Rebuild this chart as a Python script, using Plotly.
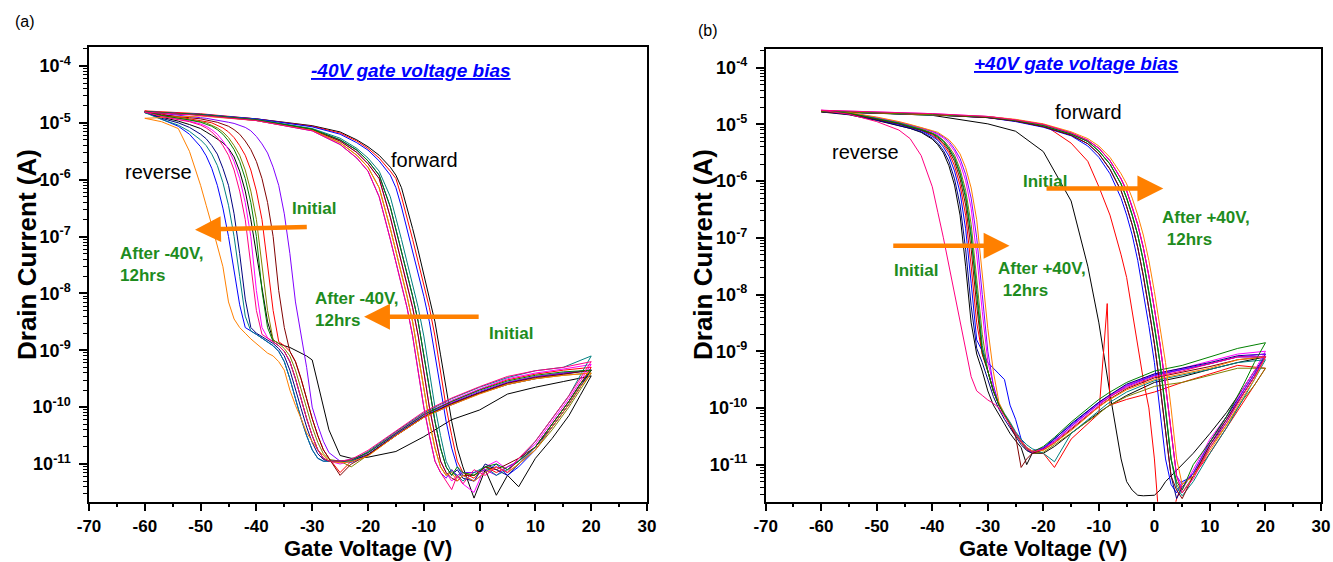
import plotly.graph_objects as go

FONT = "Liberation Sans, Arial, Helvetica, sans-serif"

# Origin-style line colours, one per transfer-curve loop
curve_colors = ["#000000", "#FF0000", "#0000FF", "#FF00FF", "#808000", "#000080",
                "#8000FF", "#008080", "#800000", "#FF8000", "#008000", "#FF0080"]

# ---------------- panel (a): -40V gate voltage bias ----------------
# gate voltage (V) of the forward sweep and of the reverse sweep
vg_fwd_a = [-60, -50, -40, -30, -25, -22, -20, -18, -16, -15, -14, -13, -12, -11, -10, -9, -8, -7,
            -6, -5, -4, -3, -1, 1, 3, 5, 7, 10, 13, 16, 18, 20]
vg_rev_a = [15, 10, 5, 0, -5, -10, -15, -20, -23, -25, -27, -28, -29, -30, -31, -32, -33, -34, -35,
            -36, -37, -38, -39, -40, -41, -42, -43, -44, -45, -46, -47, -48, -49, -50, -52, -54, -57, -60]
# log10 of drain current (A)
log_id_fwd_a = [
    [-4.82, -4.86, -4.93, -5.05, -5.16, -5.30, -5.42, -5.57, -5.78, -5.92, -6.14, -6.48, -6.86, -7.25, -7.65, -8.05, -8.5, -9.08, -9.7, -10.25, -10.72, -11.05, -11.6, -11.1, -11.55, -11.2, -11.4, -10.9, -10.55, -10.15, -9.8, -9.45],
    [-4.79, -4.84, -4.93, -5.06, -5.18, -5.32, -5.45, -5.62, -5.85, -5.98, -6.3, -6.66, -7.05, -7.45, -7.85, -8.25, -8.75, -9.4, -10.0, -10.5, -10.95, -11.15, -11.25, -11.05, -11.15, -11.05, -10.95, -10.7, -10.3, -9.9, -9.6, -9.3],
    [-4.81, -4.85, -4.93, -5.07, -5.20, -5.35, -5.48, -5.67, -5.92, -6.14, -6.48, -6.86, -7.25, -7.65, -8.05, -8.5, -9.08, -9.7, -10.25, -10.72, -11.05, -11.2, -11.3, -11.15, -11.0, -11.2, -11.05, -10.75, -10.35, -9.95, -9.65, -9.35],
    [-4.80, -4.86, -4.95, -5.12, -5.32, -5.52, -5.72, -5.98, -6.66, -7.05, -7.45, -7.85, -8.25, -8.75, -9.4, -10.0, -10.5, -10.95, -11.15, -11.3, -11.2, -11.35, -11.5, -11.05, -10.95, -11.1, -10.9, -10.65, -10.25, -9.85, -9.55, -9.25],
    [-4.80, -4.86, -4.96, -5.13, -5.35, -5.57, -5.78, -6.14, -6.86, -7.25, -7.65, -8.05, -8.5, -9.08, -9.7, -10.25, -10.72, -11.05, -11.2, -11.1, -11.25, -11.15, -11.2, -11.1, -11.05, -11.15, -11.0, -10.75, -10.4, -10.0, -9.7, -9.4],
    [-4.81, -4.86, -4.95, -5.11, -5.30, -5.48, -5.67, -5.92, -6.48, -6.86, -7.25, -7.65, -8.05, -8.5, -9.08, -9.7, -10.25, -10.72, -11.05, -11.2, -11.1, -11.25, -11.3, -11.0, -11.1, -11.2, -11.0, -10.7, -10.35, -9.95, -9.65, -9.35],
    [-4.80, -4.86, -4.96, -5.14, -5.38, -5.62, -5.85, -6.3, -7.05, -7.45, -7.85, -8.25, -8.75, -9.4, -10.0, -10.5, -10.95, -11.15, -11.25, -11.1, -11.2, -11.15, -11.15, -11.1, -11.2, -11.05, -10.95, -10.7, -10.3, -9.9, -9.6, -9.35],
    [-4.82, -4.85, -4.94, -5.10, -5.27, -5.45, -5.62, -5.85, -6.3, -6.66, -7.05, -7.45, -7.85, -8.25, -8.75, -9.4, -10.0, -10.5, -10.95, -11.15, -11.2, -11.3, -11.15, -11.05, -11.2, -11.1, -10.95, -10.6, -10.2, -9.8, -9.45, -9.1],
    [-4.81, -4.86, -4.95, -5.12, -5.32, -5.52, -5.72, -5.98, -6.66, -7.05, -7.45, -7.85, -8.25, -8.75, -9.4, -10.0, -10.5, -10.95, -11.15, -11.25, -11.3, -11.2, -11.2, -11.05, -11.1, -11.0, -10.9, -10.7, -10.3, -9.9, -9.6, -9.35],
    [-4.92, -4.88, -4.96, -5.13, -5.35, -5.57, -5.78, -6.14, -6.86, -7.25, -7.65, -8.05, -8.5, -9.08, -9.7, -10.25, -10.72, -11.05, -11.2, -11.15, -11.3, -11.2, -11.3, -11.15, -11.05, -11.15, -11.0, -10.75, -10.35, -9.95, -9.65, -9.4],
    [-4.80, -4.86, -4.95, -5.11, -5.30, -5.48, -5.67, -5.92, -6.48, -6.86, -7.25, -7.65, -8.05, -8.5, -9.08, -9.7, -10.25, -10.72, -11.05, -11.2, -11.05, -11.15, -11.2, -11.05, -11.0, -11.1, -10.95, -10.7, -10.3, -9.9, -9.6, -9.35],
    [-4.81, -4.87, -4.96, -5.14, -5.38, -5.62, -5.85, -6.3, -7.05, -7.45, -7.85, -8.25, -8.75, -9.4, -10.0, -10.5, -10.95, -11.15, -11.3, -11.45, -11.2, -11.35, -11.1, -11.2, -11.05, -11.15, -10.9, -10.6, -10.2, -9.8, -9.5, -9.2],
]
log_id_rev_a = [
    [-9.55, -9.65, -9.77, -10.05, -10.22, -10.52, -10.78, -10.88, -10.9, -10.85, -10.4, -9.98, -9.55, -9.17, -9.1, -9.05, -9.0, -8.95, -8.92, -8.88, -8.82, -8.5, -7.9, -7.3, -6.7, -6.2, -5.85, -5.6, -5.45, -5.35, -5.28, -5.22, -5.16, -5.1, -5.03, -4.97, -4.9, -4.82],
    [-9.35, -9.42, -9.52, -9.69, -9.9, -10.12, -10.45, -10.8, -10.95, -11.15, -10.9, -10.75, -10.5, -10.2, -9.85, -9.5, -9.2, -9.02, -8.92, -8.85, -8.3, -7.5, -6.7, -6.2, -5.83, -5.57, -5.4, -5.26, -5.16, -5.09, -5.04, -5.0, -4.98, -4.96, -4.93, -4.9, -4.85, -4.79],
    [-9.42, -9.5, -9.6, -9.76, -9.96, -10.18, -10.5, -10.85, -10.97, -10.95, -10.95, -10.95, -10.9, -10.75, -10.5, -10.2, -9.85, -9.5, -9.2, -9.02, -8.92, -8.85, -8.78, -8.72, -8.66, -8.6, -8.2, -7.6, -7.0, -6.5, -6.1, -5.8, -5.58, -5.42, -5.2, -5.06, -4.94, -4.81],
    [-9.33, -9.4, -9.5, -9.68, -9.88, -10.12, -10.45, -10.8, -10.95, -11.0, -10.95, -10.9, -10.75, -10.5, -10.2, -9.85, -9.5, -9.2, -9.02, -8.92, -8.85, -8.78, -8.6, -7.95, -7.0, -6.4, -5.98, -5.68, -5.47, -5.32, -5.2, -5.12, -5.06, -5.02, -4.97, -4.93, -4.88, -4.80],
    [-9.44, -9.5, -9.6, -9.76, -9.95, -10.18, -10.5, -10.85, -11.05, -10.95, -10.92, -10.82, -10.62, -10.35, -10.02, -9.68, -9.35, -9.1, -8.97, -8.88, -8.82, -8.3, -7.5, -6.7, -6.2, -5.83, -5.57, -5.4, -5.26, -5.16, -5.09, -5.04, -5.0, -4.98, -4.95, -4.92, -4.87, -4.80],
    [-9.4, -9.47, -9.57, -9.74, -9.93, -10.16, -10.48, -10.83, -10.95, -10.95, -10.95, -10.92, -10.82, -10.62, -10.35, -10.02, -9.68, -9.35, -9.1, -8.97, -8.88, -8.82, -8.75, -8.7, -8.6, -8.1, -7.3, -6.6, -6.1, -5.8, -5.55, -5.4, -5.28, -5.2, -5.08, -5.0, -4.92, -4.81],
    [-9.4, -9.46, -9.56, -9.72, -9.92, -10.14, -10.47, -10.8, -10.92, -10.95, -10.8, -10.6, -10.32, -10.0, -9.3, -8.75, -8.15, -7.3, -6.6, -6.1, -5.78, -5.53, -5.37, -5.24, -5.14, -5.08, -5.04, -5.01, -4.99, -4.97, -4.95, -4.93, -4.92, -4.91, -4.89, -4.87, -4.84, -4.80],
    [-9.3, -9.36, -9.48, -9.65, -9.85, -10.1, -10.43, -10.78, -10.95, -10.97, -10.95, -10.95, -10.9, -10.75, -10.5, -10.2, -9.85, -9.5, -9.2, -9.02, -8.92, -8.85, -8.78, -8.72, -8.66, -8.4, -7.7, -7.0, -6.45, -6.05, -5.75, -5.55, -5.4, -5.3, -5.15, -5.04, -4.94, -4.82],
    [-9.42, -9.48, -9.58, -9.75, -9.94, -10.17, -10.5, -10.84, -11.0, -11.2, -10.9, -10.75, -10.5, -10.2, -9.85, -9.5, -9.2, -9.02, -8.6, -7.95, -7.0, -6.4, -5.98, -5.68, -5.47, -5.32, -5.2, -5.12, -5.06, -5.02, -4.99, -4.97, -4.95, -4.93, -4.91, -4.89, -4.86, -4.81],
    [-9.44, -9.5, -9.6, -9.77, -9.96, -10.18, -10.5, -10.86, -10.96, -10.98, -10.95, -10.85, -10.75, -10.6, -10.45, -10.2, -9.97, -9.7, -9.35, -9.2, -9.1, -9.05, -8.97, -8.88, -8.8, -8.7, -8.6, -8.45, -8.15, -7.53, -7.15, -6.8, -6.45, -6.1, -5.5, -5.1, -4.98, -4.92],
    [-9.38, -9.44, -9.54, -9.7, -9.9, -10.13, -10.46, -10.8, -10.93, -10.95, -10.95, -10.9, -10.75, -10.5, -10.2, -9.85, -9.5, -9.2, -9.02, -8.92, -8.85, -8.6, -7.95, -7.0, -6.4, -5.98, -5.68, -5.47, -5.32, -5.2, -5.12, -5.06, -5.02, -4.99, -4.95, -4.92, -4.87, -4.80],
    [-9.3, -9.36, -9.46, -9.64, -9.84, -10.08, -10.42, -10.76, -10.92, -10.95, -10.95, -10.9, -10.75, -10.5, -10.2, -9.85, -9.5, -9.2, -9.02, -8.92, -8.85, -8.78, -8.72, -8.3, -7.5, -6.7, -6.2, -5.83, -5.57, -5.4, -5.26, -5.16, -5.09, -5.04, -4.98, -4.94, -4.89, -4.81],
]

# ---------------- panel (b): +40V gate voltage bias ----------------
vg_fwd_b = [-60, -50, -40, -30, -25, -20, -15, -12, -10, -8, -6, -5, -4, -3, -2, -1, 0, 1, 2, 3,
            4, 5, 7, 10, 13, 16, 18, 20]
vg_rev_b = [15, 10, 5, 0, -5, -8, -8.5, -10, -15, -18, -20, -22, -23, -24, -25, -26, -27, -28, -29,
            -30, -31, -32, -33, -34, -35, -36, -37, -38, -39, -40, -42, -44, -46, -50, -55, -60]
log_id_fwd_b = [
    [-4.78, -4.8, -4.84, -4.99, -5.12, -5.48, -6.35, -7.5, -8.5, -9.75, -10.9, -11.3, -11.45, -11.54, -11.55, -11.55, -11.54, -11.45, -11.3, -11.2, -11.1, -11.0, -10.8, -10.45, -10.08, -9.65, -9.35, -9.1],
    [-4.77, -4.79, -4.82, -4.88, -4.93, -5.0, -5.33, -5.65, -6.1, -6.6, -7.3, -7.7, -8.3, -8.9, -9.5, -10.0, -10.9, -12.2, -12.3, -12.0, -11.6, -11.35, -11.2, -10.8, -10.35, -9.9, -9.6, -9.3],
    [-4.77, -4.8, -4.83, -4.88, -4.95, -5.05, -5.2, -5.38, -5.58, -5.87, -6.3, -6.6, -6.95, -7.4, -7.95, -8.55, -9.2, -10.0, -10.9, -11.35, -11.5, -11.3, -11.2, -10.65, -10.25, -9.75, -9.45, -9.1],
    [-4.75, -4.78, -4.81, -4.86, -4.92, -5.0, -5.15, -5.28, -5.42, -5.64, -5.96, -6.17, -6.45, -6.77, -7.17, -7.67, -8.25, -8.87, -9.6, -10.45, -11.2, -11.45, -11.1, -10.55, -10.15, -9.65, -9.35, -9.0],
    [-4.77, -4.8, -4.83, -4.87, -4.93, -5.02, -5.17, -5.3, -5.47, -5.7, -6.05, -6.3, -6.6, -6.95, -7.4, -7.95, -8.55, -9.2, -10.0, -10.9, -11.35, -11.5, -11.2, -10.7, -10.3, -9.85, -9.6, -9.3],
    [-4.77, -4.8, -4.83, -4.88, -4.94, -5.04, -5.19, -5.34, -5.52, -5.79, -6.17, -6.45, -6.77, -7.17, -7.67, -8.25, -8.87, -9.6, -10.45, -11.2, -11.6, -11.4, -11.15, -10.6, -10.15, -9.7, -9.4, -9.05],
    [-4.76, -4.79, -4.82, -4.86, -4.92, -5.0, -5.15, -5.28, -5.42, -5.64, -5.96, -6.17, -6.45, -6.77, -7.17, -7.67, -8.25, -8.87, -9.6, -10.45, -11.2, -11.35, -11.15, -10.6, -10.2, -9.7, -9.4, -9.05],
    [-4.77, -4.8, -4.83, -4.87, -4.93, -5.02, -5.17, -5.3, -5.47, -5.7, -6.05, -6.3, -6.6, -6.95, -7.4, -7.95, -8.55, -9.2, -10.0, -10.9, -11.4, -11.55, -11.3, -10.8, -10.35, -9.85, -9.5, -9.15],
    [-4.77, -4.8, -4.83, -4.88, -4.94, -5.04, -5.19, -5.34, -5.52, -5.79, -6.17, -6.45, -6.77, -7.17, -7.67, -8.25, -8.87, -9.6, -10.45, -11.2, -11.45, -11.6, -11.2, -10.65, -10.2, -9.75, -9.45, -9.1],
    [-4.76, -4.79, -4.82, -4.86, -4.91, -4.99, -5.13, -5.25, -5.38, -5.58, -5.87, -6.05, -6.3, -6.6, -6.95, -7.4, -7.95, -8.55, -9.2, -10.0, -10.9, -11.35, -11.2, -10.75, -10.3, -9.8, -9.5, -9.1],
    [-4.76, -4.79, -4.82, -4.87, -4.93, -5.02, -5.17, -5.3, -5.47, -5.7, -6.05, -6.3, -6.6, -6.95, -7.4, -7.95, -8.55, -9.2, -10.0, -10.9, -11.3, -11.45, -11.0, -10.6, -10.15, -9.6, -9.2, -8.85],
    [-4.75, -4.78, -4.81, -4.86, -4.92, -5.0, -5.15, -5.28, -5.42, -5.64, -5.96, -6.17, -6.45, -6.77, -7.17, -7.67, -8.25, -8.87, -9.6, -10.45, -11.2, -11.5, -11.25, -10.7, -10.25, -9.75, -9.45, -9.1],
]
log_id_rev_b = [
    [-9.2, -9.32, -9.45, -9.55, -9.78, -9.95, -9.98, -10.08, -10.45, -10.68, -10.8, -10.8, -11.0, -10.7, -10.58, -10.45, -10.28, -10.12, -9.95, -9.7, -9.35, -9.05, -8.5, -7.5, -6.6, -6.07, -5.73, -5.5, -5.36, -5.26, -5.14, -5.07, -5.02, -4.93, -4.83, -4.78],
    [-9.25, -9.4, -9.55, -9.72, -9.85, -9.95, -8.16, -10.1, -10.55, -11.05, -10.8, -10.76, -10.7, -10.58, -10.45, -10.28, -10.12, -9.95, -9.7, -9.35, -9.05, -8.5, -7.5, -6.6, -6.07, -5.73, -5.5, -5.36, -5.26, -5.19, -5.1, -5.05, -4.99, -4.91, -4.81, -4.77],
    [-9.1, -9.22, -9.32, -9.42, -9.6, -9.78, -9.8, -9.9, -10.3, -10.55, -10.7, -10.8, -10.72, -10.55, -10.2, -9.95, -9.5, -9.4, -9.3, -9.2, -9.0, -8.8, -7.8, -6.84, -6.2, -5.82, -5.56, -5.4, -5.28, -5.21, -5.11, -5.06, -5.0, -4.92, -4.82, -4.77],
    [-9.05, -9.18, -9.3, -9.4, -9.6, -9.78, -9.81, -9.92, -10.32, -10.58, -10.72, -10.78, -10.72, -10.6, -10.45, -10.28, -10.12, -9.95, -9.6, -9.18, -8.3, -7.3, -6.48, -5.99, -5.68, -5.47, -5.34, -5.24, -5.18, -5.13, -5.07, -5.02, -4.97, -4.89, -4.79, -4.75],
    [-9.3, -9.42, -9.55, -9.62, -9.8, -9.95, -9.98, -10.1, -10.45, -10.65, -10.78, -10.8, -10.75, -10.62, -10.47, -10.3, -10.12, -9.95, -9.7, -9.35, -8.7, -7.7, -6.76, -6.16, -5.79, -5.54, -5.39, -5.28, -5.2, -5.15, -5.08, -5.03, -4.97, -4.9, -4.8, -4.77],
    [-9.08, -9.2, -9.3, -9.4, -9.58, -9.76, -9.8, -9.9, -10.28, -10.55, -10.72, -10.8, -10.75, -10.65, -10.5, -10.35, -10.2, -10.02, -9.8, -9.5, -9.2, -8.95, -8.2, -7.2, -6.42, -5.96, -5.65, -5.46, -5.33, -5.24, -5.13, -5.07, -5.02, -4.92, -4.82, -4.77],
    [-9.1, -9.22, -9.33, -9.43, -9.62, -9.8, -9.83, -9.93, -10.33, -10.58, -10.7, -10.76, -10.7, -10.58, -10.45, -10.28, -10.12, -9.95, -9.6, -9.0, -8.0, -7.0, -6.3, -5.88, -5.6, -5.43, -5.3, -5.22, -5.16, -5.12, -5.06, -5.01, -4.96, -4.88, -4.79, -4.76],
    [-9.2, -9.32, -9.42, -9.52, -9.72, -9.9, -9.93, -10.05, -10.45, -10.95, -10.8, -10.72, -10.65, -10.55, -10.42, -10.25, -10.1, -9.92, -9.7, -9.35, -8.9, -7.9, -6.92, -6.25, -5.85, -5.58, -5.42, -5.29, -5.21, -5.16, -5.09, -5.03, -4.98, -4.9, -4.8, -4.77],
    [-9.15, -9.27, -9.37, -9.47, -9.66, -9.84, -9.87, -9.98, -10.37, -10.62, -10.74, -10.8, -10.9, -11.05, -10.5, -10.3, -10.12, -9.95, -9.7, -9.35, -9.05, -8.2, -7.2, -6.42, -5.96, -5.65, -5.46, -5.33, -5.24, -5.17, -5.1, -5.05, -4.99, -4.91, -4.81, -4.77],
    [-9.15, -9.3, -9.4, -9.5, -9.68, -9.85, -9.88, -9.98, -10.4, -10.62, -10.75, -10.76, -10.7, -10.58, -10.45, -10.28, -10.12, -9.9, -9.36, -8.6, -7.6, -6.68, -6.12, -5.76, -5.52, -5.38, -5.27, -5.2, -5.14, -5.11, -5.05, -5.0, -4.95, -4.87, -4.79, -4.76],
    [-8.95, -9.1, -9.25, -9.35, -9.55, -9.72, -9.75, -9.85, -10.25, -10.52, -10.68, -10.78, -10.72, -10.6, -10.45, -10.28, -10.12, -9.95, -9.7, -9.35, -9.0, -8.0, -7.0, -6.3, -5.88, -5.6, -5.43, -5.3, -5.22, -5.16, -5.09, -5.04, -4.98, -4.9, -4.8, -4.76],
    [-9.1, -9.22, -9.35, -9.45, -9.64, -9.8, -9.84, -9.95, -10.35, -10.6, -10.73, -10.78, -10.72, -10.6, -10.45, -10.3, -10.15, -10.0, -9.92, -9.86, -9.78, -9.7, -9.45, -8.95, -8.5, -8.0, -7.5, -7.0, -6.55, -6.1, -5.55, -5.25, -5.1, -4.95, -4.82, -4.75],
]

# axis ticks
x_tick_vals = [-70, -60, -50, -40, -30, -20, -10, 0, 10, 20, 30]
y_decades = [-11, -10, -9, -8, -7, -6, -5, -4]

for rows, n in ((log_id_fwd_a, len(vg_fwd_a)), (log_id_rev_a, len(vg_rev_a)),
                (log_id_fwd_b, len(vg_fwd_b)), (log_id_rev_b, len(vg_rev_b))):
    for r in rows:
        assert len(r) == n, (len(r), n)

fig = go.Figure()
panels = [("x", "y", vg_fwd_a, vg_rev_a, log_id_fwd_a, log_id_rev_a),
          ("x2", "y2", vg_fwd_b, vg_rev_b, log_id_fwd_b, log_id_rev_b)]
for xa, ya, vf, vr, lf, lr in panels:
    for i, col in enumerate(curve_colors):
        fig.add_trace(go.Scatter(
            x=vf + vr,
            y=[10 ** v for v in lf[i] + lr[i]],
            mode="lines", line=dict(color=col, width=1),
            xaxis=xa, yaxis=ya, showlegend=False, hoverinfo="skip"))

minor_y = [m * 10.0 ** e for e in range(-12, -3) for m in range(2, 10)]

def xaxis_cfg(domain, anchor):
    return dict(domain=domain, anchor=anchor, range=[-70, 30], automargin=False,
                tickmode="array", tickvals=x_tick_vals, ticktext=[str(v) for v in x_tick_vals],
                ticks="outside", ticklen=8, tickwidth=1.5, tickcolor="black",
                showline=True, linecolor="black", linewidth=1.5, mirror=True,
                showgrid=False, zeroline=False, ticklabelstandoff=0,
                tickfont=dict(family=FONT, size=17, color="black", weight="bold"),
                minor=dict(ticks="outside", ticklen=4, tickwidth=1.5, tickcolor="black",
                           tick0=-70, dtick=5, showgrid=False))

def yaxis_cfg(domain, anchor, rng):
    return dict(domain=domain, anchor=anchor, type="log", range=rng, automargin=False,
                tickmode="array", tickvals=[10.0 ** e for e in y_decades],
                ticktext=["10<sup>%d</sup>" % e for e in y_decades],
                ticks="outside", ticklen=8, tickwidth=1.5, tickcolor="black",
                showline=True, linecolor="black", linewidth=1.5, mirror=True,
                showgrid=False, zeroline=False, ticklabelstandoff=5,
                tickfont=dict(family=FONT, size=18, color="black", weight="bold"),
                minor=dict(tickmode="array", tickvals=minor_y, ticks="outside", ticklen=4,
                           tickwidth=1.2, tickcolor="black", showgrid=False))

GREEN = "#1E8C1E"
ORANGE = "#FF8000"
ann = []

def txt(x, y, s, xr, yr, size=17, color="black", bold=False, xanchor="center", align="center"):
    ann.append(dict(x=x, y=y, xref=xr, yref=yr, text=s, showarrow=False, xanchor=xanchor,
                    yanchor="middle", align=align,
                    font=dict(family=FONT, size=size, color=color,
                              weight="bold" if bold else "normal")))

def arrow(x, y, ax, ay, xr, yr):
    ann.append(dict(x=x, y=y, ax=ax, ay=ay, xref=xr, yref=yr, axref=xr, ayref=yr, text="",
                    showarrow=True, arrowhead=2, arrowsize=1.15, arrowwidth=4.5,
                    arrowcolor=ORANGE, standoff=0, startstandoff=0))

# panel (a) texts
txt(-57.6, -5.86, "reverse", "x", "y", size=20)
txt(-9.8, -5.65, "forward", "x", "y", size=20)
txt(-29.7, -6.51, "Initial", "x", "y", color=GREEN, bold=True)
txt(-64.8, -7.49, "After -40V,<br>12hrs", "x", "y", color=GREEN, bold=True, xanchor="left", align="left")
txt(-29.9, -8.29, "After -40V,<br>12hrs", "x", "y", color=GREEN, bold=True, xanchor="left", align="left")
txt(5.6, -8.70, "Initial", "x", "y", color=GREEN, bold=True)
arrow(-51.0, -6.88, -30.7, -6.83, "x", "y")
arrow(-20.7, -8.41, 0.1, -8.41, "x", "y")

# panel (b) texts
txt(-52.0, -5.49, "reverse", "x2", "y2", size=20)
txt(-11.8, -4.78, "forward", "x2", "y2", size=20)
txt(-19.7, -6.00, "Initial", "x2", "y2", color=GREEN, bold=True)
txt(1.0, -6.83, "After +40V,<br> 12hrs", "x2", "y2", color=GREEN, bold=True, xanchor="left", align="left")
txt(-42.9, -7.57, "Initial", "x2", "y2", color=GREEN, bold=True)
txt(-28.5, -7.74, "After +40V,<br> 12hrs", "x2", "y2", color=GREEN, bold=True, xanchor="left", align="left")
arrow(1.6, -6.13, -19.7, -6.13, "x2", "y2")
arrow(-26.1, -7.14, -47.3, -7.14, "x2", "y2")

# panel titles (blue, bold italic, underlined)
for xc, yc, s in ((411 / 1333, 1 - 70 / 562, "-40V gate voltage bias"),
                  (1076 / 1333, 1 - 64 / 562, "+40V gate voltage bias")):
    ann.append(dict(x=xc, y=yc, xref="paper", yref="paper", text="<i>" + s + "</i>",
                    showarrow=False, xanchor="center", yanchor="middle",
                    font=dict(family=FONT, size=19, color="#0000FF", weight="bold",
                              lineposition="under")))

# panel letters
for xc, yc, s in ((25 / 1333, 1 - 22 / 562, "(a)"), (708 / 1333, 1 - 30 / 562, "(b)")):
    ann.append(dict(x=xc, y=yc, xref="paper", yref="paper", text=s, showarrow=False,
                    xanchor="center", yanchor="middle",
                    font=dict(family=FONT, size=16, color="black")))

# axis titles
for xc in (368 / 1333, 1043 / 1333):
    ann.append(dict(x=xc, y=0, xref="paper", yref="paper", text="Gate Voltage (V)",
                    showarrow=False, xanchor="center", yanchor="bottom", yshift=0,
                    borderpad=0,
                    font=dict(family=FONT, size=22, color="black", weight="bold")))
for xc in (27 / 1333, 703 / 1333):
    ann.append(dict(x=xc, y=1 - 255 / 562, xref="paper", yref="paper", text="Drain Current (A)",
                    showarrow=False, xanchor="center", yanchor="middle", textangle=-90,
                    font=dict(family=FONT, size=26, color="black", weight="bold")))

fig.update_layout(
    width=1333, height=562,
    margin=dict(l=0, r=0, t=0, b=0, autoexpand=False),
    paper_bgcolor="white", plot_bgcolor="white",
    showlegend=False,
    xaxis=xaxis_cfg([89 / 1333, 647 / 1333], "y"),
    yaxis=yaxis_cfg([1 - 501.7 / 562, 1 - 46.7 / 562], "x", [-11.663, -3.661]),
    xaxis2=xaxis_cfg([765.7 / 1333, 1321 / 1333], "y2"),
    yaxis2=yaxis_cfg([1 - 501.7 / 562, 1 - 49.3 / 562], "x2", [-11.654, -3.675]),
    annotations=ann,
)

fig.write_html("out.html", config={"displayModeBar": False},
               post_script="document.body.style.margin='0px';document.body.style.overflow='hidden';")
